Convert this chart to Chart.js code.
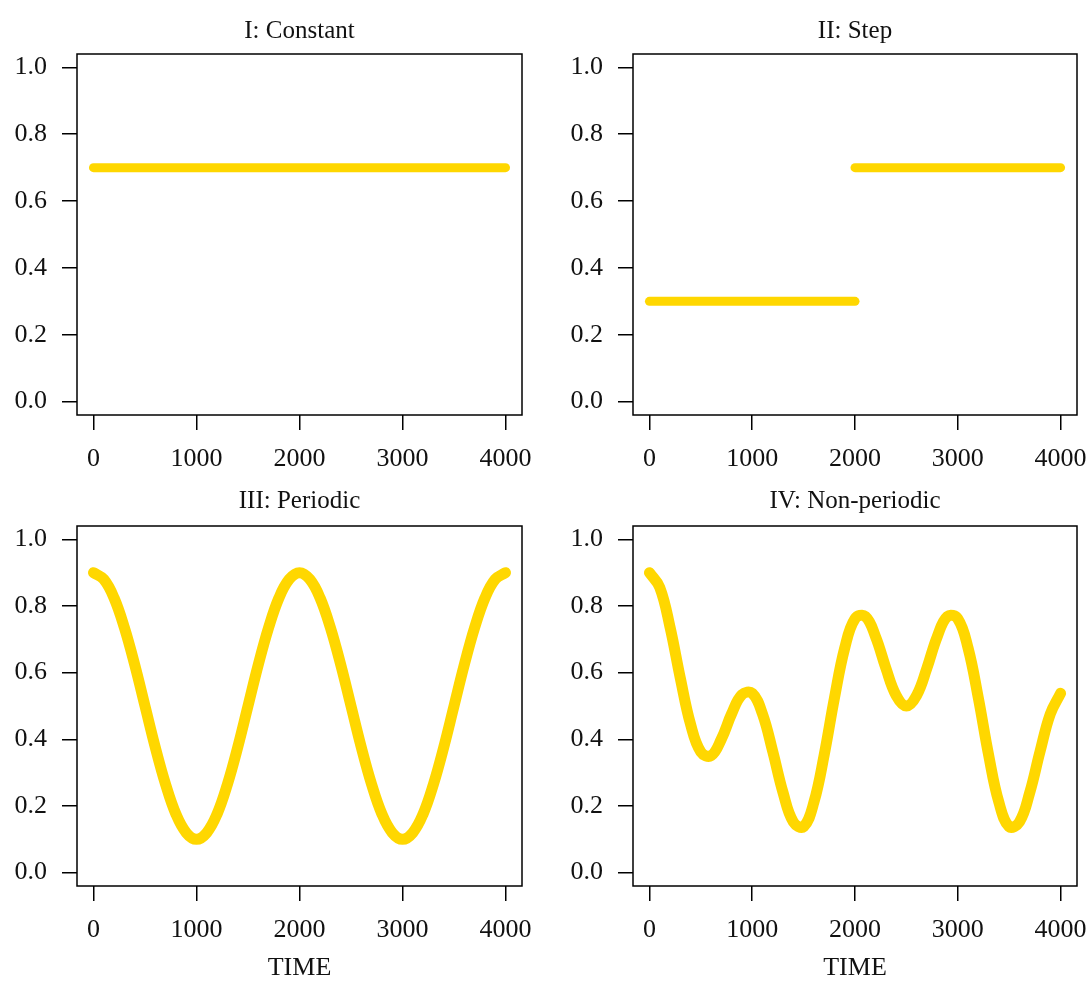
<!DOCTYPE html>
<html>
<head>
<meta charset="utf-8">
<script src="https://cdn.jsdelivr.net/npm/chart.js@4/dist/chart.umd.min.js"></script>
<style>
  html, body { margin: 0; padding: 0; background: #fff; overflow: hidden; }
  #page { position: relative; width: 1089px; height: 981px; }
  .panel { position: absolute; }
</style>
</head>
<body>
<div id="page">
  <div class="panel" style="left:0;top:0;width:545px;height:470px"><canvas id="c1"></canvas></div>
  <div class="panel" style="left:545px;top:0;width:544px;height:470px"><canvas id="c2"></canvas></div>
  <div class="panel" style="left:0;top:470px;width:545px;height:511px"><canvas id="c3"></canvas></div>
  <div class="panel" style="left:545px;top:470px;width:544px;height:511px"><canvas id="c4"></canvas></div>
</div>
<script>
// --- data ---
const xTicks = [0, 1000, 2000, 3000, 4000];
const yTicks = [0, 0.2, 0.4, 0.6, 0.8, 1.0];

const timeGrid = [0, 100, 200, 300, 400, 500, 600, 700, 800, 900, 1000,
  1100, 1200, 1300, 1400, 1500, 1600, 1700, 1800, 1900, 2000,
  2100, 2200, 2300, 2400, 2500, 2600, 2700, 2800, 2900, 3000,
  3100, 3200, 3300, 3400, 3500, 3600, 3700, 3800, 3900, 4000];

// I: Constant
const constantX = [0, 4000];
const constantY = [0.7, 0.7];

// II: Step
const stepLowX = [0, 2000];
const stepLowY = [0.3, 0.3];
const stepHighX = [2000, 4000];
const stepHighY = [0.7, 0.7];

// III: Periodic
const periodicY = [0.9, 0.88, 0.824, 0.735, 0.624, 0.5, 0.376, 0.265, 0.176, 0.12, 0.1,
  0.12, 0.176, 0.265, 0.376, 0.5, 0.624, 0.735, 0.824, 0.88, 0.9,
  0.88, 0.824, 0.735, 0.624, 0.5, 0.376, 0.265, 0.176, 0.12, 0.1,
  0.12, 0.176, 0.265, 0.376, 0.5, 0.624, 0.735, 0.824, 0.88, 0.9];

// IV: Non-periodic
const nonPeriodicY = [0.9, 0.856, 0.737, 0.584, 0.445, 0.362, 0.351, 0.401, 0.477, 0.534, 0.538,
  0.476, 0.363, 0.24, 0.152, 0.138, 0.211, 0.353, 0.524, 0.674, 0.762,
  0.769, 0.708, 0.614, 0.532, 0.5, 0.532, 0.614, 0.708, 0.769, 0.762,
  0.674, 0.524, 0.353, 0.211, 0.138, 0.152, 0.24, 0.363, 0.476, 0.538];

const LINE = '#FFD700';
const FONT = "'Liberation Serif', 'Times New Roman', serif";
const TXT = '#111';

function pts(xs, ys) { return xs.map((x, i) => ({ x: x, y: ys[i] })); }

function series(xs, ys, width) {
  return {
    data: pts(xs, ys),
    borderColor: LINE,
    borderWidth: width,
    borderCapStyle: 'round',
    borderJoinStyle: 'round',
    pointRadius: 0,
    tension: 0.4,
    fill: false
  };
}

// box round the plot area, like R's box()
const framePlugin = {
  id: 'frame',
  afterDraw(chart) {
    const a = chart.chartArea, ctx = chart.ctx;
    ctx.save();
    ctx.strokeStyle = '#000';
    ctx.lineWidth = 1.5;
    ctx.strokeRect(a.left, a.top, a.right - a.left, a.bottom - a.top);
    ctx.restore();
  }
};

function makePanel(id, title, datasets, g, showTime) {
  const w = g.w, h = g.h;
  new Chart(document.getElementById(id), {
    type: 'line',
    data: { datasets: datasets },
    options: {
      responsive: true,
      maintainAspectRatio: false,
      animation: false,
      events: [],
      layout: { padding: { left: 0, right: w - g.right, top: 0, bottom: 0 } },
      plugins: {
        legend: { display: false },
        tooltip: { enabled: false },
        title: {
          display: true,
          text: title,
          fullSize: false,
          color: TXT,
          font: { family: FONT, size: 25, weight: 'normal', lineHeight: 1.2 },
          padding: { top: 16, bottom: g.top - 16 - 30 }
        }
      },
      scales: {
        x: {
          type: 'linear',
          min: -160,
          max: 4160,
          border: { display: false },
          grid: { drawOnChartArea: false, drawTicks: true, tickLength: 15, color: '#000', lineWidth: 1.5 },
          ticks: {
            color: TXT,
            padding: 14,
            maxRotation: 0,
            font: { family: FONT, size: 26, lineHeight: 1.2 },
            callback: v => String(v)
          },
          title: {
            display: showTime,
            text: 'TIME',
            color: TXT,
            font: { family: FONT, size: 26, lineHeight: 1 },
            padding: { top: 0, bottom: 0 }
          },
          afterBuildTicks: s => { s.ticks = xTicks.map(v => ({ value: v })); },
          afterFit: s => {
            s.height = h - g.bottom;
            s.paddingLeft = 0; s.paddingRight = 0;
          }
        },
        y: {
          type: 'linear',
          min: -0.04,
          max: 1.04,
          border: { display: false },
          grid: { drawOnChartArea: false, drawTicks: true, tickLength: 15, color: '#000', lineWidth: 1.5 },
          ticks: {
            color: TXT,
            padding: 15,
            font: { family: FONT, size: 26, lineHeight: 1.2 },
            callback: v => v.toFixed(1)
          },
          afterBuildTicks: s => { s.ticks = yTicks.map(v => ({ value: v })); },
          afterFit: s => {
            s.width = g.left;
            s.paddingTop = 0; s.paddingBottom = 0;
          }
        }
      }
    },
    plugins: [framePlugin]
  });
}

const topLeft = { w: 545, h: 470, left: 77, right: 522, top: 54, bottom: 415 };
const topRight = { w: 544, h: 470, left: 88, right: 532, top: 54, bottom: 415 };
const botLeft = { w: 545, h: 511, left: 77, right: 522, top: 56, bottom: 416 };
const botRight = { w: 544, h: 511, left: 88, right: 532, top: 56, bottom: 416 };

makePanel('c1', 'I: Constant', [series(constantX, constantY, 9)], topLeft, false);
makePanel('c2', 'II: Step', [series(stepLowX, stepLowY, 9), series(stepHighX, stepHighY, 9)], topRight, false);
makePanel('c3', 'III: Periodic', [series(timeGrid, periodicY, 11)], botLeft, true);
makePanel('c4', 'IV: Non-periodic', [series(timeGrid, nonPeriodicY, 11)], botRight, true);
</script>
</body>
</html>
